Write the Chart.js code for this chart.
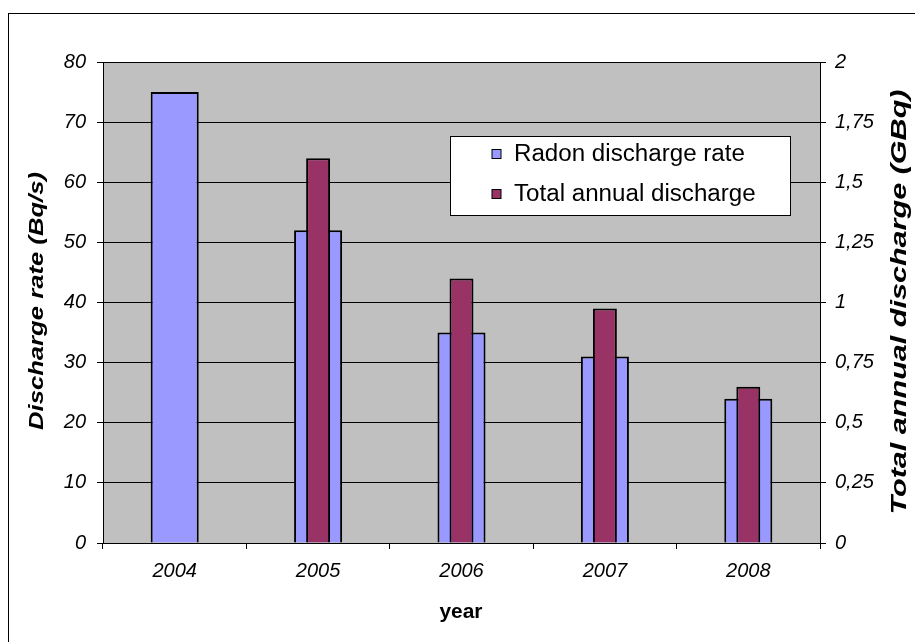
<!DOCTYPE html>
<html>
<head>
<meta charset="utf-8">
<script src="https://cdn.jsdelivr.net/npm/chart.js@4/dist/chart.umd.min.js"></script>
<style>
  html, body { margin: 0; padding: 0; background: #ffffff; }
  #wrap { width: 915px; height: 642px; position: relative; }
</style>
</head>
<body>
<div id="wrap"><canvas id="chart"></canvas></div>
<script>
// Yearly radon figures
const years = ['2004', '2005', '2006', '2007', '2008'];
const radonRate = [75, 52, 35, 31, 24];                 // discharge rate, Bq/s
const annualDischarge = [null, 1.6, 1.1, 0.975, 0.65];  // total annual discharge, GBq

// Axis ranges and tick steps
const rateAxis = { min: 0, max: 80, step: 10 };
const dischargeAxis = { min: 0, max: 2, step: 0.25 };

const FONT = "'Liberation Sans', Arial, sans-serif";

// Draws text at (x, y), stretched along its direction by a factor
function stretchedText(ctx, text, x, y, font, stretch, angle, align) {
  ctx.save();
  ctx.font = font;
  ctx.fillStyle = '#000';
  ctx.textBaseline = 'middle';
  ctx.textAlign = align || 'center';
  ctx.translate(x, y);
  ctx.rotate(angle);
  ctx.scale(stretch, 1);
  ctx.fillText(text, 0, 0);
  ctx.restore();
}

// Same, but stretched to an exact length
function fittedText(ctx, text, x, y, font, length, angle) {
  ctx.save();
  ctx.font = font;
  const w = ctx.measureText(text).width;
  ctx.restore();
  stretchedText(ctx, text, x, y, font, length / w, angle);
}

const frame = {
  id: 'frame',
  beforeDraw(chart) {
    const { ctx, chartArea: a } = chart;
    ctx.save();
    ctx.fillStyle = '#ffffff';
    ctx.fillRect(0, 0, chart.width, chart.height);
    ctx.strokeStyle = '#000';
    ctx.lineWidth = 1;
    ctx.strokeRect(8.5, 13.5, 1200, 1200);
    ctx.fillStyle = '#C0C0C0';
    ctx.fillRect(a.left, a.top, a.right - a.left, a.bottom - a.top);
    ctx.restore();
  },
  afterDraw(chart) {
    const { ctx } = chart;
    const ds = chart.data.datasets;
    // legend box
    ctx.save();
    ctx.fillStyle = '#ffffff';
    ctx.fillRect(450.5, 136.5, 340, 79);
    ctx.strokeStyle = '#000';
    ctx.lineWidth = 1;
    ctx.strokeRect(450.5, 136.5, 340, 79);
    const rows = [154, 194];
    ds.forEach((d, i) => {
      ctx.fillStyle = d.backgroundColor;
      ctx.fillRect(492, rows[i] - 4.5, 9, 9);
      ctx.strokeRect(492, rows[i] - 4.5, 9, 9);
      stretchedText(ctx, d.label, 514, rows[i] + 1, '23px ' + FONT, 1.05, 0, 'left');
    });
    ctx.restore();
    // axis titles
    fittedText(ctx, 'Discharge rate (Bq/s)', 37, 301, 'italic bold 21px ' + FONT, 258, -Math.PI / 2);
    fittedText(ctx, 'Total annual discharge (GBq)', 900, 302, 'italic bold 22px ' + FONT, 425, -Math.PI / 2);
    fittedText(ctx, 'year', 461, 612, 'bold 20px ' + FONT, 43, 0);
  }
};

const tickFont = { family: FONT, size: 20, style: 'italic' };

new Chart(document.getElementById('chart'), {
  type: 'bar',
  data: {
    labels: years,
    datasets: [
      {
        label: 'Radon discharge rate',
        data: radonRate,
        yAxisID: 'y',
        backgroundColor: '#9999FF',
        borderColor: '#000000',
        borderWidth: 2,
        barPercentage: 0.335,
        categoryPercentage: 1,
        grouped: false,
        order: 2
      },
      {
        label: 'Total annual discharge',
        data: annualDischarge,
        yAxisID: 'y1',
        backgroundColor: '#993366',
        borderColor: '#000000',
        borderWidth: 2,
        barPercentage: 0.167,
        categoryPercentage: 1,
        grouped: false,
        order: 1
      }
    ]
  },
  options: {
    responsive: true,
    maintainAspectRatio: false,
    animation: false,
    devicePixelRatio: 1,
    layout: { padding: { top: 62, left: 0, right: 0, bottom: 0 } },
    plugins: { legend: { display: false }, tooltip: { enabled: false } },
    scales: {
      x: {
        offset: true,
        grid: { offset: true, drawOnChartArea: false, color: '#000', tickLength: 6, lineWidth: 1 },
        border: { color: '#000', width: 1 },
        ticks: { font: tickFont, color: '#000', padding: 10, maxRotation: 0 },
        afterFit(s) { s.height = 99; }
      },
      y: {
        position: 'left',
        min: rateAxis.min,
        max: rateAxis.max,
        grid: { color: '#000', tickLength: 6, lineWidth: 1 },
        border: { color: '#000', width: 1 },
        ticks: { stepSize: rateAxis.step, font: tickFont, color: '#000', padding: 11 },
        afterFit(s) { s.width = 103; }
      },
      y1: {
        position: 'right',
        min: dischargeAxis.min,
        max: dischargeAxis.max,
        grid: { drawOnChartArea: false, color: '#000', tickLength: 6, lineWidth: 1 },
        border: { color: '#000', width: 1 },
        ticks: {
          stepSize: dischargeAxis.step,
          font: tickFont,
          color: '#000',
          padding: 9,
          callback: v => String(v).replace('.', ',')
        },
        afterFit(s) { s.width = 95; }
      }
    }
  },
  plugins: [frame]
});
</script>
</body>
</html>
